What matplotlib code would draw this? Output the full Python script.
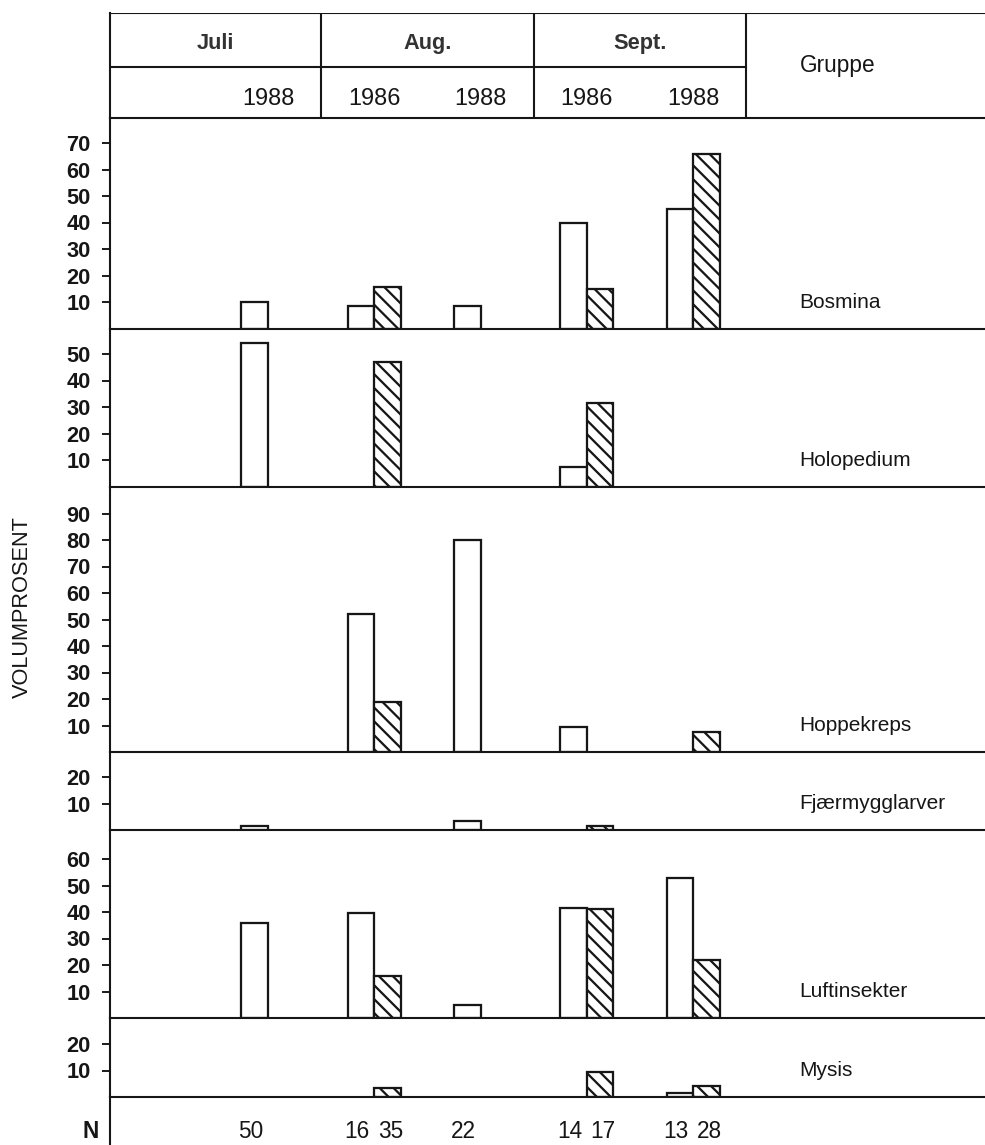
import matplotlib
matplotlib.use('Agg')
import matplotlib.pyplot as plt

plt.rcParams['font.family'] = ['Liberation Sans', 'DejaVu Sans']
plt.rcParams['hatch.linewidth'] = 1.3
plt.rcParams['hatch.color'] = '#111111'

INK = '#161616'

months = ['Juli', 'Aug.', 'Sept.']
years = ['1988', '1986', '1988', '1986', '1988']
groups = ['Bosmina', 'Holopedium', 'Hoppekreps', 'Fjærmygglarver', 'Luftinsekter', 'Mysis']

# volumprosent per prøve: Juli 88, Aug 86, Aug 88, Sept 86, Sept 88
bosmina_open = [10, 8.5, 8.5, 40, 45]
bosmina_hatch = [None, 15.5, None, 15, 66]
holopedium_open = [54, None, None, 7.5, None]
holopedium_hatch = [None, 47, None, 31.5, None]
hoppekreps_open = [None, 52, 80, 9.5, None]
hoppekreps_hatch = [None, 19, None, None, 7.5]
fjaermygg_open = [1.5, None, 3.5, None, None]
fjaermygg_hatch = [None, None, None, 1.5, None]
luft_open = [36, 39.5, 5, 41.5, 53]
luft_hatch = [None, 16, None, 41, 22]
mysis_open = [None, None, None, None, 1.5]
mysis_hatch = [None, 3.5, None, 9.5, 4]

n_open = [50, 16, 22, 14, 13]
n_hatch = [None, 35, None, 17, 28]

open_vals = [bosmina_open, holopedium_open, hoppekreps_open,
             fjaermygg_open, luft_open, mysis_open]
hatch_vals = [bosmina_hatch, holopedium_hatch, hoppekreps_hatch,
              fjaermygg_hatch, luft_hatch, mysis_hatch]
yticks = [range(10, 80, 10), range(10, 60, 10), range(10, 100, 10),
          [10, 20], range(10, 70, 10), [10, 20]]

W, H = 985, 1145
fig = plt.figure(figsize=(W / 125, H / 125), dpi=125)

# pixel rows of each panel (top, baseline)
rows = [(118, 328.5), (328.5, 486.5), (486.5, 752), (752, 830), (830, 1018), (1018, 1097)]
px_per_pct = 2.65
left, right = 110, 985
x0, dx = 268, 106.3
xlim = ((left - x0) / dx, (right - x0) / dx)
bw = 0.25
LW = 1.2


def add_row(top, bottom):
    return fig.add_axes([left / W, 1 - bottom / H, (right - left) / W, (bottom - top) / H])


def frame(ax, bottom=True):
    ax.set_xlim(*xlim)
    for s in ['top', 'right']:
        ax.spines[s].set_visible(False)
    ax.spines['bottom'].set_visible(bottom)
    for s in ['left', 'bottom']:
        ax.spines[s].set_linewidth(LW)
        ax.spines[s].set_color(INK)
    ax.set_xticks([])
    ax.patch.set_alpha(0)


for k, (top, bottom) in enumerate(rows):
    ax = add_row(top, bottom)
    frame(ax)
    ax.set_ylim(0, (bottom - top) / px_per_pct)
    for i in range(5):
        o = open_vals[k][i]
        h = hatch_vals[k][i]
        if o is not None:
            ax.bar(i - bw / 2, o, width=bw, facecolor='white', edgecolor=INK,
                   linewidth=1.3, zorder=2)
        if h is not None:
            ax.bar(i + bw / 2, h, width=bw, facecolor='white', edgecolor=INK,
                   linewidth=1.3, hatch='\\\\\\', zorder=2)
    ax.set_yticks(list(yticks[k]))
    ax.tick_params(axis='y', direction='out', length=4.6, width=1.1, pad=6.5,
                   labelsize=12.5, colors=INK)
    for lab in ax.get_yticklabels():
        lab.set_fontweight('bold')
    ax.text(5.0, 10, groups[k], fontsize=12, color=INK, va='center', ha='left')

# header with months and years
hd = add_row(13, 118)
frame(hd)
hd.set_ylim(0, 1)
hd.set_yticks([])
hd.axhline(1, color=INK, lw=LW)
hd.plot([xlim[0], 4.5], [0.49, 0.49], color=INK, lw=LW)
for xd in [0.5, 2.5, 4.5]:
    hd.axvline(xd, color=INK, lw=LW)
month_x = [(xlim[0] + 0.5) / 2, 1.5, 3.5]
for xm, m in zip(month_x, months):
    hd.text(xm, 0.71, m, ha='center', va='center', fontsize=12.5,
            fontweight='bold', color='#333333')
for i, y in enumerate(years):
    hd.text(i, 0.19, y, ha='center', va='center', fontsize=13.5, color=INK)
hd.text(5.0, 0.5, 'Gruppe', ha='left', va='center', fontsize=13, color=INK)

# antall fisk
nr = add_row(1097, 1145)
frame(nr, bottom=False)
nr.set_ylim(0, 1)
nr.set_yticks([])
for i in range(5):
    if n_open[i] is not None:
        nr.text(i - 0.16, 0.29, str(n_open[i]), ha='center', va='center',
                fontsize=13, color=INK)
    if n_hatch[i] is not None:
        nr.text(i + 0.15, 0.29, str(n_hatch[i]), ha='center', va='center',
                fontsize=13, color=INK)
nr.text(-0.013, 0.29, 'N', transform=nr.transAxes, ha='right', va='center',
        fontsize=13, fontweight='bold', color=INK)

fig.text(22 / W, 1 - 607 / H, 'VOLUMPROSENT', rotation=90, ha='center',
         va='center', fontsize=12.5, color=INK)

fig.savefig('out.png', dpi=125, facecolor='white')
